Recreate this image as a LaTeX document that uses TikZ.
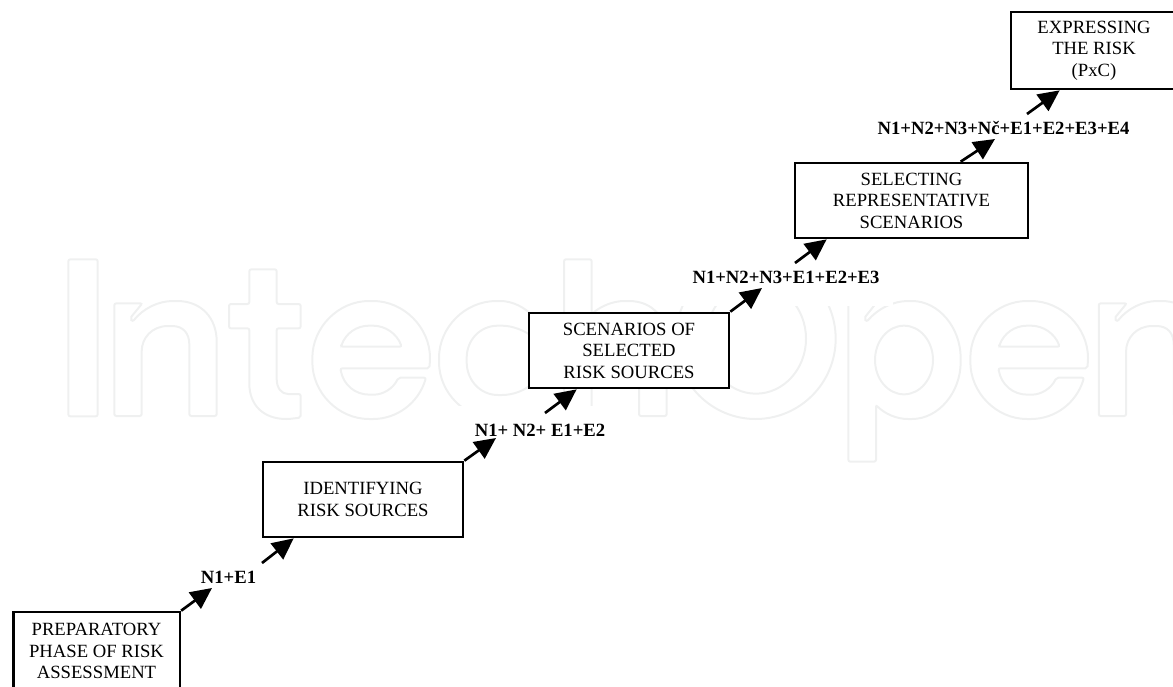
\documentclass[tikz,border=0pt]{standalone}
\usepackage{fontspec}
\setmainfont{Liberation Serif}
\usepackage{tikz}
\usetikzlibrary{arrows.meta,calc}
\definecolor{WmGray}{HTML}{EFF0F0}
\tikzset{
  stage/.style={draw,line width=2pt,fill=white,inner sep=0pt,align=center,
    font=\fontsize{14}{16.1}\selectfont},
  cond/.style={inner sep=0pt,font=\fontsize{14}{16.1}\selectfont\bfseries},
  flow/.style={line width=2pt,-{Triangle[length=16pt,width=15pt]}},
  wm/.style={draw=WmGray,line width=1.5pt,rounded corners=1.5pt},
}
\begin{document}
\begin{tikzpicture}[x=.75pt,y=-.75pt,>=Latex]
  \useasboundingbox (0,0) rectangle (1173,686);
  % watermark letters, in 3x crop units
  \begin{scope}[shift={(50,240)},x=.25pt,y=-.25pt]
    \draw[wm] (55,58) rectangle (143,529);
    \draw[wm] (598,88)--(680,88)--(680,192)--(752,192)--(752,265)--(680,265)--(680,410)
      .. controls (680,445) and (695,462) .. (720,462)--(752,462)--(752,533)--(715,537)
      .. controls (640,537) and (598,495) .. (598,425)--(598,265)--(537,265)--(537,192)--(598,192)--cycle;
  \end{scope}
  \foreach \xs in {50,1034.4} {
    \begin{scope}[shift={(\xs,240)},x=.25pt,y=-.25pt]
      \draw[wm] (193,190)--(277,190)--(240,235)--(248,245)
        .. controls (280,205) and (325,183) .. (375,183)
        .. controls (455,183) and (500,235) .. (500,310)--(500,528)--(418,528)--(418,320)
        .. controls (418,280) and (400,258) .. (360,258)
        .. controls (305,258) and (275,295) .. (275,340)--(275,528)--(193,528)--cycle;
    \end{scope}
  }
  \foreach \xs in {315,973} {
    \begin{scope}[shift={(\xs,240)},x=.25pt,y=-.25pt]
      \draw[wm] (343,385)--(76,385) .. controls (85,435) and (120,464) .. (170,464)
        .. controls (205,464) and (235,445) .. (250,413)--(333,413)
        .. controls (310,490) and (245,537) .. (168,537)
        .. controls (70,537) and (-8,458) .. (-8,360)
        .. controls (-8,262) and (70,183) .. (168,183)
        .. controls (266,183) and (345,262) .. (345,360)--cycle;
      \draw[wm] (78,320)--(260,320) .. controls (245,280) and (210,257) .. (168,257)
        .. controls (125,257) and (92,280) .. (78,320)--cycle;
    \end{scope}
  }
  \begin{scope}[shift={(370,240)},x=.25pt,y=-.25pt]
    \draw[wm] (470,515) .. controls (445,530) and (415,537) .. (385,537)
      .. controls (285,537) and (207,458) .. (207,360)
      .. controls (207,262) and (285,183) .. (385,183)
      .. controls (425,183) and (465,200) .. (500,240)--(500,300)
      .. controls (465,270) and (425,257) .. (390,257)
      .. controls (330,257) and (290,300) .. (290,360)
      .. controls (290,420) and (330,465) .. (390,465)
      .. controls (425,465) and (465,455) .. (500,420);
    \draw[wm] (582,58)--(665,58)--(665,222) .. controls (695,197) and (730,183) .. (770,183)
      .. controls (850,183) and (890,235) .. (890,310)--(890,528)--(807,528)--(807,320)
      .. controls (807,280) and (790,258) .. (750,258)
      .. controls (695,258) and (665,295) .. (665,340)--(665,528)--(582,528)--cycle;
  \end{scope}
  \begin{scope}[shift={(690,240)},x=.25pt,y=-.25pt]
    \draw[wm] (197,296) ellipse [x radius=240,y radius=241];
    \draw[wm] (198,296) ellipse [x radius=150,y radius=165];
    \draw[wm] (475,190)--(558,190)--(522,235)--(530,245)
      .. controls (565,205) and (610,183) .. (660,183)
      .. controls (745,183) and (812,262) .. (812,360)
      .. controls (812,458) and (745,537) .. (660,537)
      .. controls (620,537) and (585,522) .. (558,495)--(558,665)--(475,665)--cycle;
    \draw[wm] (642,360) ellipse [x radius=87,y radius=103];
  \end{scope}
  \fill[white] (425,406) rectangle (612,458);
  \fill[white] (655,250) rectangle (893,306);
  % stages
  \node[stage,minimum width=125pt,minimum height=58.5pt] (prep) at (96.5,651)
    {PREPARATORY\\PHASE OF RISK\\ASSESSMENT};
  \node[stage,minimum width=150pt,minimum height=56.25pt] (ident) at (363,499.5)
    {IDENTIFYING\\RISK SOURCES};
  \node[stage,minimum width=150pt,minimum height=56.25pt] (scen) at (629,350.5)
    {SCENARIOS OF\\SELECTED\\RISK SOURCES};
  \node[stage,minimum width=174.75pt,minimum height=56.25pt] (sel) at (911.5,200.5)
    {SELECTING\\REPRESENTATIVE\\SCENARIOS};
  \node[stage,minimum width=124.5pt,minimum height=57.75pt] (expr) at (1094,50.5)
    {EXPRESSING\\THE RISK\\(PxC)};
  % conditions
  \node[cond] (lone) at (228.5,577) {N1+E1};
  \node[cond] (ltwo) at (540,430) {N1+ N2+ E1+E2};
  \node[cond] (lthree) at (786,277) {N1+N2+N3+E1+E2+E3};
  \node[cond] (lfour) at (1003.5,128) {N1+N2+N3+Nč+E1+E2+E3+E4};
  % arrows
  \draw[flow] (prep.north east)--($(lone.center)+(-16.5,11)$);
  \draw[flow] ($(lone.center)+(33.5,-14)$)--($(ident.south west)+(32,0)$);
  \draw[flow] (ident.north east)--($(ltwo.center)+(-44,8)$);
  \draw[flow] ($(ltwo.center)+(5,-17)$)--($(scen.south west)+(49,0)$);
  \draw[flow] (scen.north east)--($(lthree.center)+(-24,11)$);
  \draw[flow] ($(lthree.center)+(9,-14)$)--($(sel.south west)+(33,0)$);
  \draw[flow] ($(sel.north west)+(167,0)$)--($(lfour.center)+(-8.5,11)$);
  \draw[flow] ($(lfour.center)+(23.5,-14)$)--($(expr.south west)+(50,0)$);
\end{tikzpicture}
\end{document}
